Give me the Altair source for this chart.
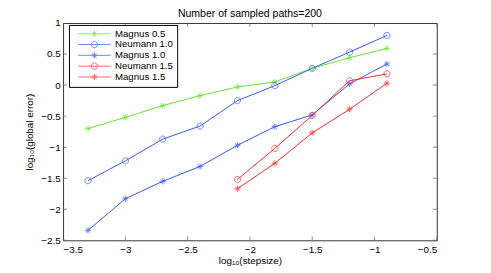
import altair as alt
import pandas as pd

# ---- data ----
series_names = ["Magnus 0.5", "Neumann 1.0", "Magnus 1.0", "Neumann 1.5", "Magnus 1.5"]
series_colors = ["#66e22a", "#3355ff", "#3355ff", "#ff2626", "#ff2626"]

x_long = [-3.3, -3.0, -2.7, -2.4, -2.1, -1.8, -1.5, -1.2, -0.9]
x_short = [-2.1, -1.8, -1.5, -1.2, -0.9]

magnus05 = [-0.70, -0.52, -0.33, -0.17, -0.03, 0.05, 0.27, 0.44, 0.59]
neumann10 = [-1.54, -1.22, -0.87, -0.66, -0.25, -0.01, 0.27, 0.53, 0.80]
magnus10 = [-2.34, -1.83, -1.55, -1.31, -0.97, -0.67, -0.48, 0.02, 0.34]
neumann15 = [-1.52, -1.02, -0.49, 0.07, 0.18]
magnus15 = [-1.67, -1.26, -0.77, -0.39, 0.03]

x_ticks = [-3.5, -3.0, -2.5, -2.0, -1.5, -1.0, -0.5]
y_ticks = [-2.5, -2.0, -1.5, -1.0, -0.5, 0.0, 0.5, 1.0]

# ---- build table ----
rows = []
for name, xs, ys in [
    ("Magnus 0.5", x_long, magnus05),
    ("Neumann 1.0", x_long, neumann10),
    ("Magnus 1.0", x_long, magnus10),
    ("Neumann 1.5", x_short, neumann15),
    ("Magnus 1.5", x_short, magnus15),
]:
    for xv, yv in zip(xs, ys):
        rows.append({"series": name, "x": xv, "y": yv})
df = pd.DataFrame(rows)

xt = pd.DataFrame({"x": x_ticks})
yt = pd.DataFrame({"y": y_ticks})

ASTER = "M-1,0L1,0M0,-1L0,1M-0.7,-0.7L0.7,0.7M-0.7,0.7L0.7,-0.7"
CIRC = "M1,0A1,1 0 1,1 -1,0A1,1 0 1,1 1,0"
LINE = "M-5.2,0L5.2,0"
marker_paths = [ASTER, CIRC, ASTER, CIRC, ASTER]
legend_paths = [LINE + p for p in marker_paths]

xscale = alt.Scale(domain=[-3.5, -0.5], nice=False, zero=False)
yscale = alt.Scale(domain=[-2.5, 1.0], nice=False, zero=False)


def cscale():
    return alt.Scale(domain=series_names, range=series_colors)


x_axis = alt.Axis(values=x_ticks, format=".1~f", title="log₁₀(stepsize)", ticks=False,
                  grid=False, domain=False, labelPadding=4, titlePadding=2,
                  labelOverlap=False)
y_axis = alt.Axis(values=y_ticks, format=".1~f", title="log₁₀(global error)", ticks=False,
                  grid=False, domain=False, labelPadding=3, titlePadding=6,
                  labelOverlap=False)


def X(field="x:Q"):
    return alt.X(field, scale=xscale, axis=x_axis)


def Y(field="y:Q"):
    return alt.Y(field, scale=yscale, axis=y_axis)


lines = alt.Chart(df).mark_line(strokeWidth=1).encode(
    x=X(), y=Y(),
    color=alt.Color("series:N", scale=cscale(), legend=None),
    detail="series:N",
)

points = alt.Chart(df).mark_point(filled=False, strokeWidth=1, size=40).encode(
    x=X(), y=Y(),
    color=alt.Color("series:N", scale=cscale(), legend=None),
    shape=alt.Shape("series:N", scale=alt.Scale(domain=series_names, range=marker_paths), legend=None),
)

leg = alt.Legend(title=None, orient="none", legendX=6, legendY=2)
legend_layer = alt.Chart(df).transform_filter("false").mark_point(filled=False, strokeWidth=1, size=40).encode(
    x=X(), y=Y(),
    color=alt.Color("series:N", scale=cscale(), legend=leg),
    shape=alt.Shape("series:N", scale=alt.Scale(domain=series_names, range=legend_paths), legend=leg),
)

tick_color = "#555555"
xt_bottom = alt.Chart(xt).mark_tick(orient="vertical", size=8, thickness=1, color=tick_color, clip=True).encode(
    x=X(), y=alt.datum(-2.5, scale=yscale, axis=y_axis))
xt_top = alt.Chart(xt).mark_tick(orient="vertical", size=8, thickness=1, color=tick_color, clip=True).encode(
    x=X(), y=alt.datum(1.0, scale=yscale, axis=y_axis))
yt_left = alt.Chart(yt).mark_tick(orient="horizontal", size=8, thickness=1, color=tick_color, clip=True).encode(
    y=Y(), x=alt.datum(-3.5, scale=xscale, axis=x_axis))
yt_right = alt.Chart(yt).mark_tick(orient="horizontal", size=8, thickness=1, color=tick_color, clip=True).encode(
    y=Y(), x=alt.datum(-0.5, scale=xscale, axis=x_axis))

chart = alt.layer(
    lines, points, legend_layer, xt_bottom, xt_top, yt_left, yt_right
).resolve_scale(
    shape="independent", color="independent"
).properties(
    width=380, height=221,
    autosize=alt.AutoSizeParams(type="none"),
    padding={"left": 56, "top": 13, "right": 47, "bottom": 31},
    title=alt.TitleParams("Number of sampled paths=200", fontSize=10.7, fontWeight="normal",
                          color="black", offset=-2, anchor="middle"),
).configure(
    font="Liberation Sans",
).configure_view(
    stroke="#333333", strokeWidth=1,
).configure_axis(
    labelFontSize=10, labelColor="black", titleFontSize=10, titleFontWeight="normal",
    titleColor="black", labelOverlap=False,
).configure_legend(
    strokeColor="black", fillColor="white", padding=4, cornerRadius=0,
    labelFontSize=9.8, labelColor="black", rowPadding=-2.3,
    symbolOffset=17, labelOffset=16, symbolSize=40, symbolStrokeWidth=1,
)

chart.save("out.html", embed_options={"renderer": "svg", "actions": False})
